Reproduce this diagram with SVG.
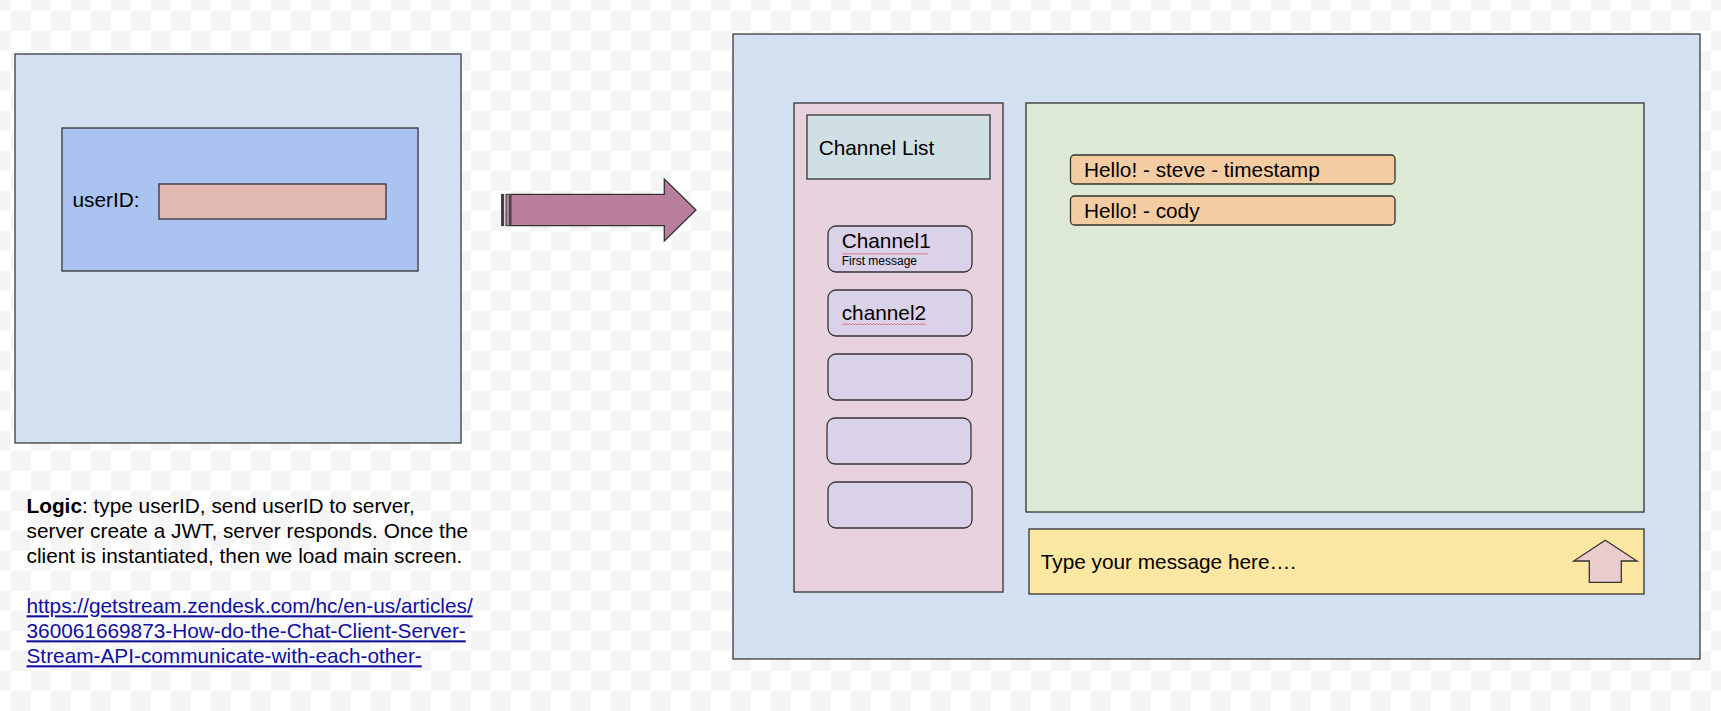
<svg xmlns="http://www.w3.org/2000/svg" width="1721" height="711" viewBox="0 0 1721 711">
<style>
  text { font-family: "Liberation Sans", Arial, sans-serif; fill: #000; }
  .t { font-size: 20.8px; }
  .sm { font-size: 12px; }
  .panel { fill: #d3e0f1; stroke: #3c3c3c; stroke-width: 1.3; }
  .ln { stroke: #333; stroke-width: 1.3; }
  .chan { fill: #d9d2e8; stroke: #333; stroke-width: 1.3; }
  .msg { fill: #f3cda1; stroke: #333; stroke-width: 1.3; }
  .link { fill: #10109f; text-decoration: underline; }
  .squig { fill: none; stroke: #e06666; stroke-width: 0.9; }
</style>
<defs>
  <pattern id="checker" x="11" y="11" width="40" height="40" patternUnits="userSpaceOnUse">
    <rect width="40" height="40" fill="#ffffff"/>
    <rect width="20" height="20" fill="#f5f5f5"/>
    <rect x="20" y="20" width="20" height="20" fill="#f5f5f5"/>
  </pattern>
</defs>
<rect width="1721" height="711" fill="url(#checker)"/>

<g id="login-screen">
  <rect class="panel" x="15" y="54" width="446" height="389"/>
  <g id="login-form">
    <rect class="ln" x="62" y="128" width="356" height="143" fill="#abc3f0"/>
    <text class="t" x="72.5" y="206.5">userID:</text>
    <rect id="userid-input" class="ln" x="159" y="184" width="227" height="35" fill="#e0bab1"/>
  </g>
</g>

<g id="logic-note">
  <text class="t" x="26.5" y="513"><tspan font-weight="bold">Logic</tspan>: type userID, send userID to server,</text>
  <text class="t" x="26.5" y="537.7">server create a JWT, server responds. Once the</text>
  <text class="t" x="26.5" y="562.5">client is instantiated, then we load main screen.</text>
  <text class="t link" x="26.5" y="613.3">https://getstream.zendesk.com/hc/en-us/articles/</text>
  <text class="t link" x="26.5" y="638.3">360061669873-How-do-the-Chat-Client-Server-</text>
  <text class="t link" x="26.5" y="663.3">Stream-API-communicate-with-each-other-</text>
</g>

<g id="connectors">
  <rect x="501.5" y="194.3" width="2.3" height="31.4" fill="#3a3a3a" stroke="#333" stroke-width="0.8"/>
  <rect x="506" y="194.3" width="3.6" height="31.4" fill="#b87e9c" stroke="#333" stroke-width="1"/>
  <polygon points="510.8,194.3 664.3,194.3 664.3,179 696,210 664.3,241 664.3,225.7 510.8,225.7" fill="#b87e9c" stroke="#333" stroke-width="1.3" stroke-linejoin="miter"/>
</g>

<g id="main-screen">
  <rect class="panel" x="733" y="34" width="967" height="625"/>

  <g id="channel-panel">
    <rect class="ln" x="794" y="103" width="209" height="489" fill="#e6d1dc"/>
    <g id="channel-list-header">
      <rect class="ln" x="807" y="115" width="183" height="64" fill="#d0dfe3"/>
      <text class="t" x="818.7" y="155">Channel List</text>
    </g>
    <g id="channel1">
      <rect class="chan" x="828" y="226" width="144" height="46" rx="8"/>
      <text class="t" x="841.7" y="248.3">Channel1</text>
      <path class="squig" d="M842,254.5 l1.5,-1.5 l1.5,1.5 l1.5,-1.5 l1.5,1.5 l1.5,-1.5 l1.5,1.5 l1.5,-1.5 l1.5,1.5 l1.5,-1.5 l1.5,1.5 l1.5,-1.5 l1.5,1.5 l1.5,-1.5 l1.5,1.5 l1.5,-1.5 l1.5,1.5 l1.5,-1.5 l1.5,1.5 l1.5,-1.5 l1.5,1.5 l1.5,-1.5 l1.5,1.5 l1.5,-1.5 l1.5,1.5 l1.5,-1.5 l1.5,1.5 l1.5,-1.5 l1.5,1.5 l1.5,-1.5 l1.5,1.5 l1.5,-1.5 l1.5,1.5 l1.5,-1.5 l1.5,1.5 l1.5,-1.5 l1.5,1.5 l1.5,-1.5 l1.5,1.5 l1.5,-1.5 l1.5,1.5 l1.5,-1.5 l1.5,1.5 l1.5,-1.5 l1.5,1.5 l1.5,-1.5 l1.5,1.5 l1.5,-1.5 l1.5,1.5 l1.5,-1.5 l1.5,1.5 l1.5,-1.5 l1.5,1.5 l1.5,-1.5 l1.5,1.5 l1.5,-1.5 l1.5,1.5 l1.5,-1.5"/>
      <text class="sm" x="841.7" y="265">First message</text>
    </g>
    <g id="channel2">
      <rect class="chan" x="828" y="290" width="144" height="46" rx="8"/>
      <text class="t" x="841.7" y="320">channel2</text>
      <path class="squig" d="M842,325 l1.5,-1.5 l1.5,1.5 l1.5,-1.5 l1.5,1.5 l1.5,-1.5 l1.5,1.5 l1.5,-1.5 l1.5,1.5 l1.5,-1.5 l1.5,1.5 l1.5,-1.5 l1.5,1.5 l1.5,-1.5 l1.5,1.5 l1.5,-1.5 l1.5,1.5 l1.5,-1.5 l1.5,1.5 l1.5,-1.5 l1.5,1.5 l1.5,-1.5 l1.5,1.5 l1.5,-1.5 l1.5,1.5 l1.5,-1.5 l1.5,1.5 l1.5,-1.5 l1.5,1.5 l1.5,-1.5 l1.5,1.5 l1.5,-1.5 l1.5,1.5 l1.5,-1.5 l1.5,1.5 l1.5,-1.5 l1.5,1.5 l1.5,-1.5 l1.5,1.5 l1.5,-1.5 l1.5,1.5 l1.5,-1.5 l1.5,1.5 l1.5,-1.5 l1.5,1.5 l1.5,-1.5 l1.5,1.5 l1.5,-1.5 l1.5,1.5 l1.5,-1.5 l1.5,1.5 l1.5,-1.5 l1.5,1.5 l1.5,-1.5 l1.5,1.5 l1.5,-1.5 l1.5,1.5"/>
    </g>
    <rect id="channel3" class="chan" x="828" y="354" width="144" height="46" rx="8"/>
    <rect id="channel4" class="chan" x="827" y="418" width="144" height="46" rx="8"/>
    <rect id="channel5" class="chan" x="828" y="482" width="144" height="46" rx="8"/>
  </g>

  <g id="chat-area">
    <rect class="ln" x="1026" y="103" width="618" height="409" fill="#dde8d5"/>
    <g id="message1">
      <rect class="msg" x="1070.5" y="155" width="324.5" height="29" rx="4"/>
      <text class="t" x="1084" y="177.3">Hello! - steve - timestamp</text>
    </g>
    <g id="message2">
      <rect class="msg" x="1070.5" y="196" width="324.5" height="29" rx="4"/>
      <text class="t" x="1084" y="218.3">Hello! - cody</text>
    </g>
  </g>

  <g id="message-input">
    <rect class="ln" x="1029" y="529" width="615" height="65" fill="#fbe6a2"/>
    <text class="t" x="1040.7" y="569">Type your message here….</text>
    <polygon id="send-button" points="1605.3,540.3 1637,561 1621.3,561 1621.3,582.3 1589.3,582.3 1589.3,561 1573.7,561" fill="#ebcccc" stroke="#333" stroke-width="1.3"/>
  </g>
</g>
</svg>
